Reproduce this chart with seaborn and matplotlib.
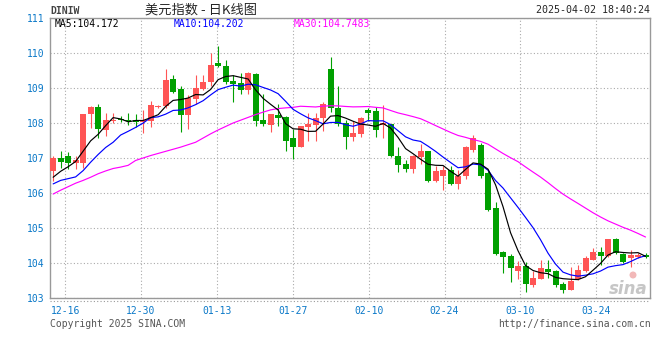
import numpy as np
import pandas as pd
import matplotlib
matplotlib.use("Agg")
import matplotlib.pyplot as plt
from matplotlib.lines import Line2D
from matplotlib.patches import Ellipse
import seaborn as sns

# daily OHLC, 80 sessions (12-12 .. 04-01)
opens = [106.64, 107.01, 107.05, 106.86, 106.85, 108.27, 108.45, 107.80, 108.05, 108.12,
         108.08, 108.10, 108.03, 108.07, 108.47, 108.48, 109.26, 108.96, 108.22, 108.69,
         108.98, 109.17, 109.70, 109.64, 109.21, 109.13, 108.94, 109.41, 108.10, 107.94,
         108.22, 108.17, 107.56, 107.32, 107.90, 107.94, 108.13, 109.55, 108.44, 108.00,
         107.61, 107.68, 108.38, 108.33, 107.93, 107.96, 107.07, 106.82, 106.69, 107.02,
         107.19, 106.34, 106.50, 106.67, 106.25, 106.48, 107.24, 107.38, 106.58, 105.56,
         104.32, 104.21, 103.76, 103.91, 103.37, 103.55, 103.84, 103.76, 103.41, 103.22,
         103.55, 103.76, 104.09, 104.31, 104.19, 104.69, 104.27, 104.14, 104.17, 104.22]
highs = [107.05, 107.19, 107.16, 107.05, 108.27, 108.50, 108.55, 108.29, 108.28, 108.19,
         108.30, 108.26, 108.37, 108.62, 108.52, 109.53, 109.36, 109.07, 108.81, 109.38,
         109.38, 110.00, 110.21, 109.81, 109.38, 109.43, 109.45, 109.43, 108.82, 108.27,
         108.53, 108.20, 107.84, 107.90, 108.29, 108.29, 108.60, 109.90, 109.05, 108.10,
         108.05, 108.18, 108.44, 108.47, 108.52, 107.98, 107.32, 106.93, 107.10, 107.40,
         107.21, 106.77, 106.77, 106.77, 106.67, 107.34, 107.67, 107.43, 106.67, 105.73,
         104.35, 104.26, 104.07, 104.02, 103.78, 104.09, 104.09, 103.79, 103.46, 103.90,
         103.93, 104.19, 104.43, 104.45, 104.69, 104.72, 104.30, 104.36, 104.30, 104.28]
lows = [106.33, 106.71, 106.70, 106.70, 106.71, 107.86, 107.57, 107.62, 108.00, 108.03,
        107.95, 107.90, 107.72, 107.90, 108.44, 108.44, 108.86, 107.74, 107.82, 108.53,
        108.93, 109.05, 109.60, 109.12, 108.60, 108.82, 108.82, 107.91, 107.91, 107.74,
        107.91, 107.20, 106.97, 107.32, 107.49, 107.49, 107.77, 108.31, 107.92, 107.27,
        107.50, 107.60, 108.07, 107.60, 107.58, 107.03, 106.60, 106.61, 106.58, 106.84,
        106.31, 106.31, 106.10, 106.22, 106.12, 106.39, 107.17, 106.44, 105.49, 104.24,
        103.72, 103.45, 103.53, 103.18, 103.31, 103.53, 103.57, 103.32, 103.15, 103.22,
        103.51, 103.74, 104.08, 103.93, 104.17, 104.26, 104.00, 103.90, 104.15, 104.15]
closes = [107.00, 106.90, 106.86, 106.95, 108.27, 108.47, 107.83, 108.10, 108.10, 108.08,
          108.06, 108.02, 108.10, 108.50, 108.50, 109.24, 108.89, 108.22, 108.72, 109.00,
          109.18, 109.67, 109.62, 109.17, 109.12, 108.94, 109.44, 108.06, 107.96, 108.27,
          108.13, 107.49, 107.32, 107.90, 107.96, 108.15, 108.53, 108.44, 107.98, 107.60,
          107.70, 108.13, 108.30, 107.80, 108.00, 107.05, 106.79, 106.70, 107.07, 107.21,
          106.34, 106.64, 106.67, 106.25, 106.50, 107.31, 107.57, 106.50, 105.52, 104.27,
          104.18, 103.86, 103.92, 103.40, 103.57, 103.86, 103.73, 103.38, 103.22, 103.49,
          103.81, 104.14, 104.31, 104.19, 104.69, 104.28, 104.03, 104.24, 104.24, 104.17]

# moving-average values before the window is full
ma5_head = [106.45, 106.62, 106.75, 106.90]
ma10_head = [106.26, 106.36, 106.41, 106.46, 106.64, 106.88, 107.10, 107.30, 107.45]
ma30_head = [105.97, 106.08, 106.18, 106.28, 106.36, 106.45, 106.55, 106.63, 106.70, 106.74,
             106.79, 106.93, 107.00, 107.07, 107.13, 107.19, 107.25, 107.31, 107.38, 107.45,
             107.57, 107.69, 107.80, 107.90, 108.00, 108.08, 108.16, 108.24, 108.31]

tick_labels = ["12-16", "12-30", "01-13", "01-27", "02-10", "02-24", "03-10", "03-24"]
legend_text = ["MA5:104.172", "MA10:104.202", "MA30:104.7483"]

RED = "#ff5555"
GREEN = "#00a000"
BLUE_TXT = "#0a78c8"

df = pd.DataFrame({"o": opens, "h": highs, "l": lows, "c": closes})
df["idx"] = np.arange(len(df))


def moving_avg(n, head):
    ma = df["c"].rolling(n).mean()
    ma.iloc[:len(head)] = head
    return ma


df["ma5"] = moving_avg(5, ma5_head)
df["ma10"] = moving_avg(10, ma10_head)
df["ma30"] = moving_avg(30, ma30_head)

sns.set_style("white")
plt.rcParams["font.family"] = ["DejaVu Sans Mono", "DejaVu Sans"]

W, H = 660, 360
fig = plt.figure(figsize=(6.6, 3.6), dpi=100)
ax = fig.add_axes([50 / W, 62 / H, 600 / W, 280 / H])

up = df["c"] >= df["o"]
colors = np.where(up, RED, GREEN)
body_low = df[["o", "c"]].min(axis=1)
body_h = (df["c"] - df["o"]).abs().clip(lower=0.025)

ax.vlines(df["idx"], df["l"], df["h"], colors=colors, lw=0.8, zorder=2)
ax.bar(df["idx"], body_h, bottom=body_low, width=0.8, color=colors, lw=0, zorder=3)

sns.lineplot(data=df, x="idx", y="ma30", color="#ff00ff", lw=0.85, ax=ax, zorder=4)
sns.lineplot(data=df, x="idx", y="ma10", color="#0000ff", lw=0.85, ax=ax, zorder=5)
sns.lineplot(data=df, x="idx", y="ma5", color="black", lw=0.85, ax=ax, zorder=6)

ax.set_xlim(-0.42, 79.6)
ax.set_ylim(103, 111)
ax.set_xlabel("")
ax.set_ylabel("")

tick_pos = 1.6 + np.arange(len(tick_labels)) * 10.12
ax.set_xticks(tick_pos)
ax.set_xticklabels(tick_labels)
ax.set_yticks(range(103, 112))
ax.tick_params(axis="both", length=0, labelsize=7, labelcolor=BLUE_TXT)
ax.tick_params(axis="x", pad=6)
ax.tick_params(axis="y", pad=4)
ax.grid(True, color="#aaaaaa", lw=0.8, ls=(0, (1.0, 2.0)))
ax.set_axisbelow(True)
for s in ax.spines.values():
    s.set_color("#999999")
    s.set_linewidth(1.0)

# dotted rule under the plot
fig.add_artist(Line2D([50 / W, 650 / W], [1 - 301 / H] * 2, color="#999999",
                      lw=0.8, ls=(0, (1.0, 2.0))))

# MA legend row
for txt, x, col in zip(legend_text, [55, 174, 294], ["black", "#0000ff", "#ff00ff"]):
    fig.text(x / W, 1 - 24 / H, txt, color=col, fontsize=7, va="center", ha="left")

fig.text(50 / W, 1 - 11 / H, "DINIW", color="#444444", fontsize=7, fontweight="bold",
         va="center", ha="left")
fig.text(201 / W, 1 - 10 / H, "美元指数 - 日K线图", fontsize=9.5, va="center", ha="center",
         family=["Noto Sans CJK SC", "DejaVu Sans"])
fig.text(650 / W, 1 - 10 / H, "2025-04-02 18:40:24", fontsize=7.2, va="center", ha="right")

fig.text(50 / W, 1 - 324 / H, "Copyright 2025 SINA.COM", color="#555555", fontsize=7,
         va="center", ha="left")
fig.text(651 / W, 1 - 324 / H, "http://finance.sina.com.cn", color="#555555", fontsize=7,
         va="center", ha="right")

# faint sina watermark
fig.text(648 / W, 1 - 289 / H, "sina", color="#b8b8b8", fontsize=12, fontweight="bold",
         style="italic", va="center", ha="right", family="DejaVu Sans", alpha=0.8)
fig.add_artist(Ellipse((633 / W, 1 - 275 / H), 7 / W, 7 / H, color="#f2b8b8", lw=0))

fig.savefig("out.png", dpi=100, facecolor="white")
